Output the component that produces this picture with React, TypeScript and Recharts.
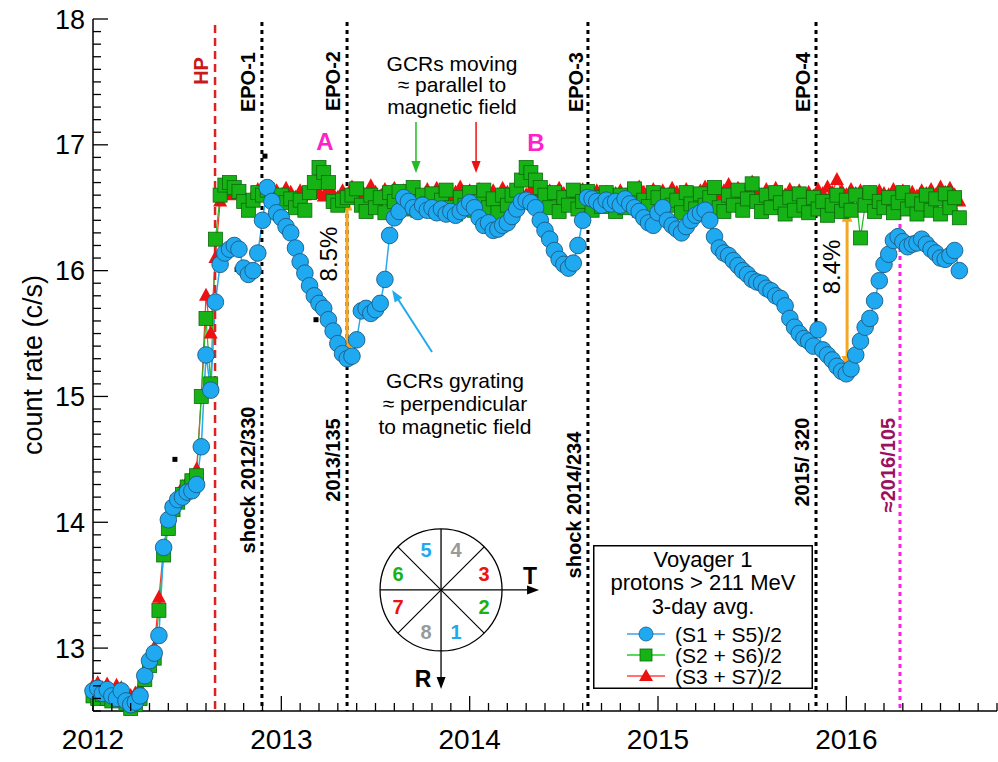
import React from 'react';
import {
  ComposedChart, Line, Scatter, XAxis, YAxis,
  ReferenceLine, ReferenceDot, Legend,
} from 'recharts';

const FONT = '"Liberation Sans", Arial, Helvetica, sans-serif';

// 3-day averaged rates, one value every 0.025 yr from 2012.0
const T0 = 2012;
const DT = 0.025;

// (S1 + S5)/2
const sect15 = [
  12.66, 12.68, 12.64, 12.67, 12.62, 12.60, 12.66, 12.58,
  12.55, 12.57, 12.62, 12.78, 12.90, 12.96, 13.10, 13.80,
  14.02, 14.12, 14.18, 14.20, 14.24, 14.25, 14.30, 14.60,
  15.33, 15.05, 15.75, 16.05, 16.14, 16.17, 16.20, 16.17,
  16.02, 15.97, 16.00, 16.14, 16.40, 16.66, 16.55, 16.46,
  16.42, 16.35, 16.30, 16.18, 16.07, 15.98, 15.88, 15.80,
  15.74, 15.70, 15.61, 15.52, 15.42, 15.34, 15.30, 15.32,
  15.45, 15.68, 15.70, 15.66, 15.69, 15.74, 15.93, 16.28,
  16.42, 16.47, 16.58, 16.55, 16.50, 16.47, 16.52, 16.48,
  16.50, 16.46, 16.49, 16.45, 16.47, 16.44, 16.47, 16.50,
  16.54, 16.50, 16.42, 16.36, 16.38, 16.32, 16.33, 16.36,
  16.38, 16.43, 16.49, 16.55, 16.56, 16.54, 16.50, 16.40,
  16.32, 16.25, 16.16, 16.09, 16.05, 16.02, 16.06, 16.20,
  16.40, 16.58, 16.57, 16.55, 16.52, 16.56, 16.53, 16.55,
  16.52, 16.57, 16.53, 16.50, 16.47, 16.42, 16.38, 16.36,
  16.46, 16.50, 16.40, 16.36, 16.33, 16.30, 16.35, 16.40,
  16.44, 16.46, 16.48, 16.40, 16.27, 16.18, 16.14, 16.12,
  16.08, 16.04, 16.00, 15.97, 15.93, 15.91, 15.90, 15.86,
  15.84, 15.80, 15.78, 15.72, 15.62, 15.55, 15.50, 15.46,
  15.44, 15.40, 15.53, 15.37, 15.33, 15.29, 15.24, 15.20,
  15.18, 15.22, 15.33, 15.44, 15.55, 15.62, 15.76, 15.92,
  16.05, 16.13, 16.24, 16.27, 16.23, 16.19, 16.21, 16.22,
  16.25, 16.21, 16.17, 16.14, 16.10, 16.09, 16.12, 16.16,
  16.00,
];

// (S2 + S6)/2
const sect26 = [
  12.62, 12.60, 12.63, 12.60, 12.58, 12.62, 12.60, 12.56,
  12.52, 12.55, 12.60, 12.75, 12.86, 12.92, 13.30, 13.74,
  13.95, 14.10, 14.16, 14.22, 14.28, 14.33, 14.37, 15.00,
  15.62, 15.10, 16.25, 16.60, 16.68, 16.70, 16.66, 16.63,
  16.55, 16.48, 16.56, 16.62, 16.60, 16.64, 16.58, 16.55,
  16.60, 16.54, 16.57, 16.50, 16.56, 16.48, 16.62, 16.70,
  16.82, 16.78, 16.70, 16.55, 16.52, 16.56, 16.58, 16.60,
  16.65, 16.52, 16.47, 16.60, 16.50, 16.58, 16.46, 16.62,
  16.55, 16.63, 16.49, 16.56, 16.66, 16.48, 16.60, 16.53,
  16.61, 16.47, 16.56, 16.64, 16.50, 16.45, 16.58, 16.52,
  16.62, 16.48, 16.55, 16.64, 16.50, 16.57, 16.46, 16.60,
  16.52, 16.60, 16.64, 16.72, 16.82, 16.78, 16.72, 16.66,
  16.60, 16.50, 16.62, 16.47, 16.58, 16.52, 16.64, 16.49,
  16.55, 16.63, 16.48, 16.58, 16.51, 16.62, 16.54, 16.47,
  16.60, 16.50, 16.57, 16.65, 16.48, 16.56, 16.51, 16.62,
  16.58, 16.47, 16.60, 16.52, 16.56, 16.46, 16.62, 16.53,
  16.49, 16.61, 16.52, 16.58, 16.66, 16.50, 16.47, 16.60,
  16.52, 16.64, 16.48, 16.57, 16.69, 16.55, 16.47, 16.60,
  16.50, 16.62, 16.54, 16.45, 16.58, 16.48, 16.61, 16.52,
  16.46, 16.58, 16.49, 16.55, 16.44, 16.52, 16.60, 16.47,
  16.56, 16.48, 16.60, 16.26, 16.52, 16.62, 16.47, 16.55,
  16.50, 16.58, 16.46, 16.54, 16.62, 16.49, 16.56, 16.45,
  16.53, 16.60, 16.48, 16.57, 16.45, 16.61, 16.50, 16.58,
  16.42,
];

// (S3 + S7)/2
const sect37 = [
  12.70, 12.72, 12.68, 12.71, 12.66, 12.70, 12.68, 12.65,
  12.62, 12.64, 12.68, 12.82, 12.95, 13.00, 13.40, 13.80,
  14.00, 14.15, 14.22, 14.28, 14.32, 14.36, 14.42, 15.00,
  15.80, 15.50, 16.10, 16.55, 16.62, 16.60, 16.63, 16.61,
  16.58, 16.55, 16.60, 16.64, 16.62, 16.66, 16.61, 16.63,
  16.60, 16.65, 16.62, 16.58, 16.63, 16.60, 16.64, 16.61,
  16.62, 16.59, 16.64, 16.61, 16.58, 16.63, 16.60, 16.66,
  16.61, 16.64, 16.60, 16.67, 16.62, 16.59, 16.64, 16.61,
  16.65, 16.60, 16.63, 16.61, 16.66, 16.62, 16.59, 16.64,
  16.61, 16.65, 16.60, 16.63, 16.58, 16.62, 16.66, 16.61,
  16.63, 16.60, 16.64, 16.61, 16.58, 16.63, 16.60, 16.65,
  16.62, 16.59, 16.63, 16.61, 16.60, 16.64, 16.61, 16.62,
  16.59, 16.63, 16.60, 16.65, 16.61, 16.58, 16.62, 16.60,
  16.64, 16.61, 16.59, 16.63, 16.60, 16.62, 16.58, 16.61,
  16.63, 16.60, 16.64, 16.61, 16.66, 16.62, 16.59, 16.64,
  16.61, 16.63, 16.60, 16.65, 16.62, 16.59, 16.64, 16.61,
  16.60, 16.63, 16.66, 16.61, 16.64, 16.60, 16.63, 16.68,
  16.62, 16.65, 16.61, 16.64, 16.70, 16.63, 16.60, 16.64,
  16.61, 16.65, 16.62, 16.60, 16.64, 16.61, 16.63, 16.60,
  16.62, 16.59, 16.64, 16.61, 16.66, 16.62, 16.72, 16.63,
  16.60, 16.64, 16.61, 16.63, 16.60, 16.62, 16.58, 16.63,
  16.61, 16.60, 16.64, 16.61, 16.63, 16.60, 16.62, 16.59,
  16.63, 16.61, 16.64, 16.60, 16.66, 16.62, 16.65, 16.60,
  16.55,
];

// isolated single points
const strayT = [2012.435, 2012.765, 2012.913, 2013.184];
const strayV = [14.5, 16.01, 16.91, 15.61];

const yearLabels = [2012, 2013, 2014, 2015, 2016];
const countLabels = [13, 14, 15, 16, 17, 18];

// heliopause crossing and pressure-pulse epochs
const hpT = 2012.648;
const epoT = [2012.897, 2013.349, 2014.628, 2015.839];
const epoName = ['EPO-1', 'EPO-2', 'EPO-3', 'EPO-4'];
const epoDate = ['shock 2012/330', '2013/135', 'shock 2014/234', '2015/ 320'];
const epoDateY = [14.336, 14.495, 14.137, 14.479];
const recoverT = 2016.285;

// depth of the two anisotropy dips
const dipT = [2013.349, 2016.004];
const dipHi = [16.59, 16.5];
const dipLo = [15.31, 15.21];
const dipLabel = ['8.5%', '8.4%'];
const dipLabelT = [2013.253, 2015.919];
const dipLabelY = [16.132, 16.029];

const toSeries = (vals: number[]) =>
  vals.map((v, i) => ({ t: +(T0 + i * DT).toFixed(3), v }));

const xTicks = Array.from({ length: 49 }, (_, i) => +(2012 + i * 0.1).toFixed(1));
const yTicks = Array.from({ length: 56 }, (_, i) => +(12.5 + i * 0.1).toFixed(1));

const BLUE = '#1fa9f0';
const GREEN = '#16b216';
const RED = '#ee1111';

const renderXTick = (p: any) => {
  const v = p.payload.value;
  const major = yearLabels.includes(v);
  return (
    <g key={`x${v}`}>
      <line x1={p.x} y1={p.y} x2={p.x} y2={p.y - (major ? 15 : 8)} stroke="#000" strokeWidth={1.3} />
      {major && (
        <text x={p.x} y={p.y + 38} textAnchor="middle" fontSize={28} fontFamily={FONT} fill="#000">{v}</text>
      )}
    </g>
  );
};

const renderYTick = (p: any) => {
  const v = p.payload.value;
  const major = countLabels.includes(v);
  return (
    <g key={`y${v}`}>
      <line x1={p.x} y1={p.y} x2={p.x + (major ? 15 : 8)} y2={p.y} stroke="#000" strokeWidth={1.3} />
      {major && (
        <text x={p.x - 8} y={p.y + 9.5} textAnchor="end" fontSize={27} fontFamily={FONT} fill="#000">{v}</text>
      )}
    </g>
  );
};

const circleDot = (p: any) => (
  <circle key={`c${p.index}`} cx={p.cx} cy={p.cy} r={8.3} fill={BLUE} stroke="#1c5a85" strokeWidth={0.9} />
);
const squareDot = (p: any) => (
  <rect key={`s${p.index}`} x={p.cx - 7} y={p.cy - 7} width={14} height={14} fill={GREEN} stroke="#0b6b0b" strokeWidth={0.8} />
);
const triDot = (p: any) => (
  <path key={`t${p.index}`} d={`M${p.cx},${p.cy - 8}L${p.cx + 7},${p.cy + 5}L${p.cx - 7},${p.cy + 5}Z`} fill={RED} />
);

// line with a filled head at the end (and optionally at the start)
function arrow(color: string, w: number, head: number, both: boolean) {
  return (p: any) => {
    const { x1, y1, x2, y2 } = p;
    const len = Math.hypot(x2 - x1, y2 - y1) || 1;
    const ux = (x2 - x1) / len;
    const uy = (y2 - y1) / len;
    const hw = head * 0.38;
    const tri = (tx: number, ty: number, dx: number, dy: number) => {
      const bx = tx - dx * head;
      const by = ty - dy * head;
      return `M${tx},${ty}L${bx - dy * hw},${by + dx * hw}L${bx + dy * hw},${by - dx * hw}Z`;
    };
    const sx = both ? x1 + ux * head * 0.7 : x1;
    const sy = both ? y1 + uy * head * 0.7 : y1;
    return (
      <g>
        <line x1={sx} y1={sy} x2={x2 - ux * head * 0.7} y2={y2 - uy * head * 0.7} stroke={color} strokeWidth={w} />
        <path d={tri(x2, y2, ux, uy)} fill={color} />
        {both && <path d={tri(x1, y1, -ux, -uy)} fill={color} />}
      </g>
    );
  };
}

// text or drawing pinned to a data position
const note = (key: string, x: number, y: number, draw: (cx: number, cy: number) => React.ReactElement) => (
  <ReferenceDot key={key} x={x} y={y} r={0} ifOverflow="visible" shape={(p: any) => draw(p.cx, p.cy)} />
);

const vText = (label: string, fill: string, size: number, weight: string | number = 'bold') =>
  (cx: number, cy: number) => (
    <text x={cx} y={cy} transform={`rotate(-90 ${cx} ${cy})`} textAnchor="middle" dominantBaseline="central"
      fontSize={size} fontWeight={weight} fontFamily={FONT} fill={fill}>{label}</text>
  );

const block = (lines: string[], step: number) => (cx: number, cy: number) => (
  <text x={cx} y={cy} textAnchor="middle" fontSize={21} fontFamily={FONT} fill="#000">
    {lines.map((l, i) => <tspan key={l} x={cx} dy={i === 0 ? 0 : step}>{l}</tspan>)}
  </text>
);

// sector layout of the telescope, T and R directions
const sectorNums: [string, number, number, string][] = [
  ['5', -15, -40, BLUE], ['4', 15, -40, '#999'], ['3', 43, -16, RED], ['2', 43, 17, GREEN],
  ['1', 15, 42, BLUE], ['8', -15, 42, '#999'], ['7', -43, 17, RED], ['6', -43, -16, GREEN],
];
const compass = (cx: number, cy: number) => {
  const r = 61;
  const d = r * Math.SQRT1_2;
  return (
    <g transform={`translate(${cx},${cy})`} fontFamily={FONT}>
      <circle r={r} fill="#fff" stroke="#000" strokeWidth={1.3} />
      <line x1={-r} y1={0} x2={88} y2={0} stroke="#000" strokeWidth={1.3} />
      <path d="M98,0L86,-4.5L86,4.5Z" fill="#000" />
      <line x1={0} y1={-r} x2={0} y2={89} stroke="#000" strokeWidth={1.3} />
      <path d="M0,99L-4.5,87L4.5,87Z" fill="#000" />
      <line x1={-d} y1={-d} x2={d} y2={d} stroke="#000" strokeWidth={1.2} />
      <line x1={d} y1={-d} x2={-d} y2={d} stroke="#000" strokeWidth={1.2} />
      {sectorNums.map(([n, x, y, c]) => (
        <text key={n} x={x} y={y} textAnchor="middle" dominantBaseline="central" fontSize={20} fontWeight="bold" fill={c}>{n}</text>
      ))}
      <text x={89} y={-14} textAnchor="middle" dominantBaseline="central" fontSize={23} fontWeight="bold">T</text>
      <text x={-18} y={89} textAnchor="middle" dominantBaseline="central" fontSize={23} fontWeight="bold">R</text>
    </g>
  );
};

function LegendBox() {
  const rowY = [89, 110, 131];
  const labels = ['(S1 + S5)/2', '(S2 + S6)/2', '(S3 + S7)/2'];
  const lineColors = ['#3aa0f0', '#22cc22', '#ff4444'];
  return (
    <svg width={220} height={144} style={{ display: 'block' }}>
      <rect x={0.75} y={0.75} width={218.5} height={142.5} fill="#fff" stroke="#000" strokeWidth={1.5} />
      <g fontFamily={FONT} fontSize={22} fill="#000" textAnchor="middle">
        <text x={110} y={22}>Voyager 1</text>
        <text x={110} y={45}>protons &gt; 211 MeV</text>
        <text x={110} y={69}>3-day avg.</text>
      </g>
      {rowY.map((y, i) => (
        <g key={labels[i]}>
          <line x1={34} y1={y} x2={72} y2={y} stroke={lineColors[i]} strokeWidth={1.5} />
          {i === 0 && <circle cx={53} cy={y} r={7} fill={BLUE} stroke="#1c5a85" strokeWidth={0.8} />}
          {i === 1 && <rect x={47} y={y - 6} width={12} height={12} fill={GREEN} stroke="#0b6b0b" strokeWidth={0.8} />}
          {i === 2 && <path d={`M53,${y - 7}L60,${y + 5}L46,${y + 5}Z`} fill={RED} />}
          <text x={82} y={y + 8} fontSize={21} fontFamily={FONT} fill="#000">{labels[i]}</text>
        </g>
      ))}
    </svg>
  );
}

export default function App() {
  const s15 = toSeries(sect15);
  const s26 = toSeries(sect26);
  const s37 = toSeries(sect37);
  const stray = strayT.map((t, i) => ({ t, v: strayV[i] }));

  return (
    <div style={{ position: 'absolute', left: 0, top: 0, width: 998, height: 762, background: '#fff' }}>
      <ComposedChart width={998} height={762} margin={{ top: 19, right: 1, bottom: 0, left: 0 }}>
        <XAxis type="number" dataKey="t" domain={[2012, 2016.8]} ticks={xTicks} interval={0}
          height={51} tickSize={0} tickMargin={0} tickLine={false} tick={renderXTick}
          axisLine={{ stroke: '#000', strokeWidth: 1.5 }} />
        <YAxis type="number" domain={[12.5, 18]} ticks={yTicks} interval={0}
          width={93} tickSize={0} tickMargin={0} tickLine={false} tick={renderYTick}
          axisLine={{ stroke: '#000', strokeWidth: 1.5 }}
          label={{
            content: () => (
              <text x={42} y={365} transform="rotate(-90 42 365)" textAnchor="middle" fontSize={27} fontFamily={FONT} fill="#000">
                count rate (c/s)
              </text>
            ),
          }} />

        <Line data={s37} dataKey="v" type="linear" stroke="#ff3333" strokeWidth={1.2} dot={triDot} activeDot={false} isAnimationActive={false} />
        <Line data={s26} dataKey="v" type="linear" stroke="#22bb22" strokeWidth={1.2} dot={squareDot} activeDot={false} isAnimationActive={false} />
        <Line data={s15} dataKey="v" type="linear" stroke="#2aa8f0" strokeWidth={1.5} dot={circleDot} activeDot={false} isAnimationActive={false} />
        <Scatter data={stray} dataKey="v" isAnimationActive={false}
          shape={(p: any) => <rect x={p.cx - 2.5} y={p.cy - 2.5} width={5} height={5} fill="#000" />} />

        <ReferenceLine segment={[{ x: hpT, y: 17.952 }, { x: hpT, y: 12.5 }]} stroke="#dd2222" strokeWidth={2.5} strokeDasharray="8 5" />
        {epoT.map((t) => (
          <ReferenceLine key={`e${t}`} segment={[{ x: t, y: 17.976 }, { x: t, y: 12.5 }]} stroke="#000" strokeWidth={3} strokeDasharray="4 4" />
        ))}
        <ReferenceLine segment={[{ x: recoverT, y: 16.561 }, { x: recoverT, y: 12.5 }]} stroke="#ff22e0" strokeWidth={3} strokeDasharray="4 4" />

        {dipT.map((t, i) => (
          <ReferenceLine key={`d${t}`} segment={[{ x: t, y: dipHi[i] }, { x: t, y: dipLo[i] }]} shape={arrow('#f5a623', 3, 14, true)} />
        ))}
        <ReferenceLine segment={[{ x: 2013.715, y: 17.181 }, { x: 2013.715, y: 16.776 }]} shape={arrow('#22bb22', 1.5, 12, false)} />
        <ReferenceLine segment={[{ x: 2014.034, y: 17.181 }, { x: 2014.034, y: 16.776 }]} shape={arrow('#ee1111', 1.5, 12, false)} />
        <ReferenceLine segment={[{ x: 2013.8, y: 15.353 }, { x: 2013.588, y: 15.846 }]} shape={arrow('#22aaee', 2, 12, false)} />

        {note('hp', 2012.573, 17.587, vText('HP', '#cc1818', 20))}
        {epoT.map((t, i) => note(`n${i}`, 2012.823 + [0, 0.451, 1.742, 2.947][i], [17.499, 17.507, 17.499, 17.499][i], vText(epoName[i], '#000', 20)))}
        {epoDate.map((s, i) => note(`s${i}`, epoT[i] - 0.074, epoDateY[i], vText(s, '#000', 20)))}
        {note('rec', 2016.221, 14.455, vText('\u22482016/105', '#9b1060', 20))}
        {dipLabel.map((s, i) => note(`p${i}`, dipLabelT[i], dipLabelY[i], vText(s, '#000', 24, 'normal')))}
        {note('A', 2013.232, 17.03, (cx, cy) => (
          <text x={cx} y={cy} textAnchor="middle" dominantBaseline="central" fontSize={24} fontWeight="bold" fontFamily={FONT} fill="#ff22cc">A</text>
        ))}
        {note('B', 2014.352, 17.022, (cx, cy) => (
          <text x={cx} y={cy} textAnchor="middle" dominantBaseline="central" fontSize={24} fontWeight="bold" fontFamily={FONT} fill="#ff22cc">B</text>
        ))}
        {note('par', 2013.906, 17.587, block(['GCRs moving', '\u2248 parallel to', 'magnetic field'], 21.5))}
        {note('perp', 2013.922, 15.067, block(['GCRs gyrating', '\u2248 perpendicular', 'to magnetic field'], 23))}
        {note('dial', 2013.848, 13.462, compass)}

        <Legend layout="vertical" align="center" verticalAlign="middle" width={220} height={144}
          wrapperStyle={{ left: 593, top: 545, width: 220, height: 144 }}
          content={() => <LegendBox />} />
      </ComposedChart>
    </div>
  );
}
